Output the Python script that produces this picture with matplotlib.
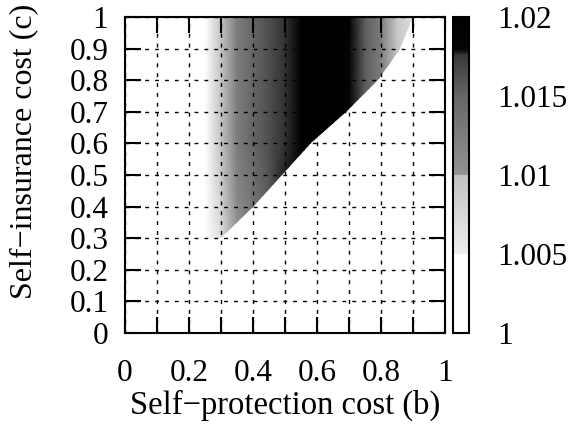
import numpy as np
import matplotlib.pyplot as plt
from matplotlib.colors import LinearSegmentedColormap
from matplotlib.patches import Polygon

plt.rcParams['font.family'] = ['Liberation Serif', 'DejaVu Serif']
plt.rcParams['font.size'] = 22.5

# grid nodes: self-protection cost (b) and self-insurance cost (c)
b_nodes = [0.20, 0.25, 0.30, 0.35, 0.40, 0.45, 0.50, 0.55,
           0.60, 0.65, 0.70, 0.75, 0.80, 0.85, 0.90, 0.95]
c_nodes = [0.2, 0.3, 0.4, 0.5, 0.6, 0.7, 0.8, 0.9, 1.0]

# cost ratio at each (c, b) node
ratio = [
    [1.002, 1.004, 1.007, 1.010, 1.013, 1.015, 1.017, 1.019, 1.020, 1.020, 1.018, 1.0155, 1.013, 1.010, 1.007, 1.004],
    [1.002, 1.004, 1.007, 1.010, 1.013, 1.015, 1.017, 1.019, 1.020, 1.020, 1.018, 1.0155, 1.013, 1.010, 1.007, 1.004],
    [1.002, 1.005, 1.008, 1.011, 1.0135, 1.0155, 1.0175, 1.019, 1.020, 1.020, 1.018, 1.0155, 1.013, 1.010, 1.007, 1.004],
    [1.002, 1.005, 1.009, 1.012, 1.014, 1.016, 1.0178, 1.0195, 1.021, 1.021, 1.0185, 1.0155, 1.013, 1.010, 1.007, 1.004],
    [1.002, 1.005, 1.0098, 1.0125, 1.015, 1.0163, 1.0176, 1.0195, 1.021, 1.021, 1.0185, 1.0155, 1.0125, 1.0095, 1.0065, 1.004],
    [1.002, 1.005, 1.0098, 1.0125, 1.015, 1.0163, 1.0176, 1.0195, 1.021, 1.021, 1.0185, 1.0155, 1.0125, 1.0095, 1.0065, 1.004],
    [1.002, 1.005, 1.0098, 1.0125, 1.015, 1.0163, 1.0176, 1.0195, 1.021, 1.021, 1.0185, 1.0155, 1.0125, 1.0095, 1.0065, 1.004],
    [1.002, 1.005, 1.0098, 1.0125, 1.015, 1.0163, 1.0176, 1.0195, 1.021, 1.021, 1.0185, 1.0155, 1.0125, 1.0095, 1.0065, 1.004],
    [1.002, 1.005, 1.0098, 1.0125, 1.015, 1.0163, 1.0176, 1.0195, 1.021, 1.021, 1.0185, 1.0155, 1.0125, 1.0095, 1.0065, 1.004],
]

# outline of the region where the ratio exceeds 1
region_b = [0.24, 0.24, 0.90, 0.86, 0.79, 0.69, 0.58, 0.49, 0.40, 0.30, 0.24]
region_c = [0.30, 1.00, 1.00, 0.90, 0.80, 0.70, 0.60, 0.50, 0.40, 0.30, 0.30]

x_ticks = [0, 0.2, 0.4, 0.6, 0.8, 1]
x_labels = ['0', '0.2', '0.4', '0.6', '0.8', '1']
y_ticks = [0, 0.1, 0.2, 0.3, 0.4, 0.5, 0.6, 0.7, 0.8, 0.9, 1]
y_labels = ['0', '0.1', '0.2', '0.3', '0.4', '0.5', '0.6', '0.7', '0.8', '0.9', '1']
cbar_ticks = [1, 1.005, 1.01, 1.015, 1.02]
cbar_labels = ['1', '1.005', '1.01', '1.015', '1.02']

# grey scale with jumps at 1.005 and 1.01: (position, level below, level above)
grey = [(0.0, 1.0, 1.0), (0.25, 1.0, 0.93), (0.5, 0.76, 0.58),
        (0.75, 0.40, 0.40), (0.88, 0.22, 0.22), (0.9, 0.02, 0.02), (1.0, 0.0, 0.0)]
cmap = LinearSegmentedColormap('greys', {'red': grey, 'green': grey, 'blue': grey})

fig = plt.figure(figsize=(5.7, 4.34), dpi=100)
ax = fig.add_axes([0.2193, 0.2327, 0.5614, 0.7281])
cax = fig.add_axes([0.7947, 0.2327, 0.0281, 0.7281])

B, C = np.meshgrid(b_nodes, c_nodes)
mesh = ax.pcolormesh(B, C, np.array(ratio), shading='gouraud', cmap=cmap,
                     vmin=1.0, vmax=1.02, zorder=1)
region = Polygon(np.column_stack([region_b, region_c]), closed=True,
                 transform=ax.transData, facecolor='none', edgecolor='none')
mesh.set_clip_path(region)

ax.set_xlim(0, 1)
ax.set_ylim(0, 1)
ax.set_xticks(x_ticks)
ax.set_xticklabels(x_labels)
ax.set_xticks(np.arange(0.1, 1.0, 0.2), minor=True)
ax.set_yticks(y_ticks)
ax.set_yticklabels(y_labels)

for which in ('major', 'minor'):
    ax.tick_params(axis='both', which=which, direction='in', length=11.5, width=1.5,
                   top=True, right=True)
ax.tick_params(axis='x', which='major', pad=19)
ax.tick_params(axis='y', which='major', pad=12)
for spine in ax.spines.values():
    spine.set_linewidth(1.5)

ax.grid(True, which='both', color='black', linewidth=1.0, linestyle=(0, (2.8, 4.3)))
ax.set_axisbelow(False)

ax.set_xlabel('Self\u2212protection cost (b)', fontsize=23.5, labelpad=1)
ax.set_ylabel('Self\u2212insurance cost (c)', fontsize=23)
ax.yaxis.set_label_coords(-0.272, 0.575)

cbar = fig.colorbar(mesh, cax=cax, ticks=cbar_ticks)
cbar.ax.set_yticklabels(cbar_labels)
cbar.ax.tick_params(length=0, pad=20)
cbar.outline.set_linewidth(1.5)

fig.savefig('out.png', dpi=100)
